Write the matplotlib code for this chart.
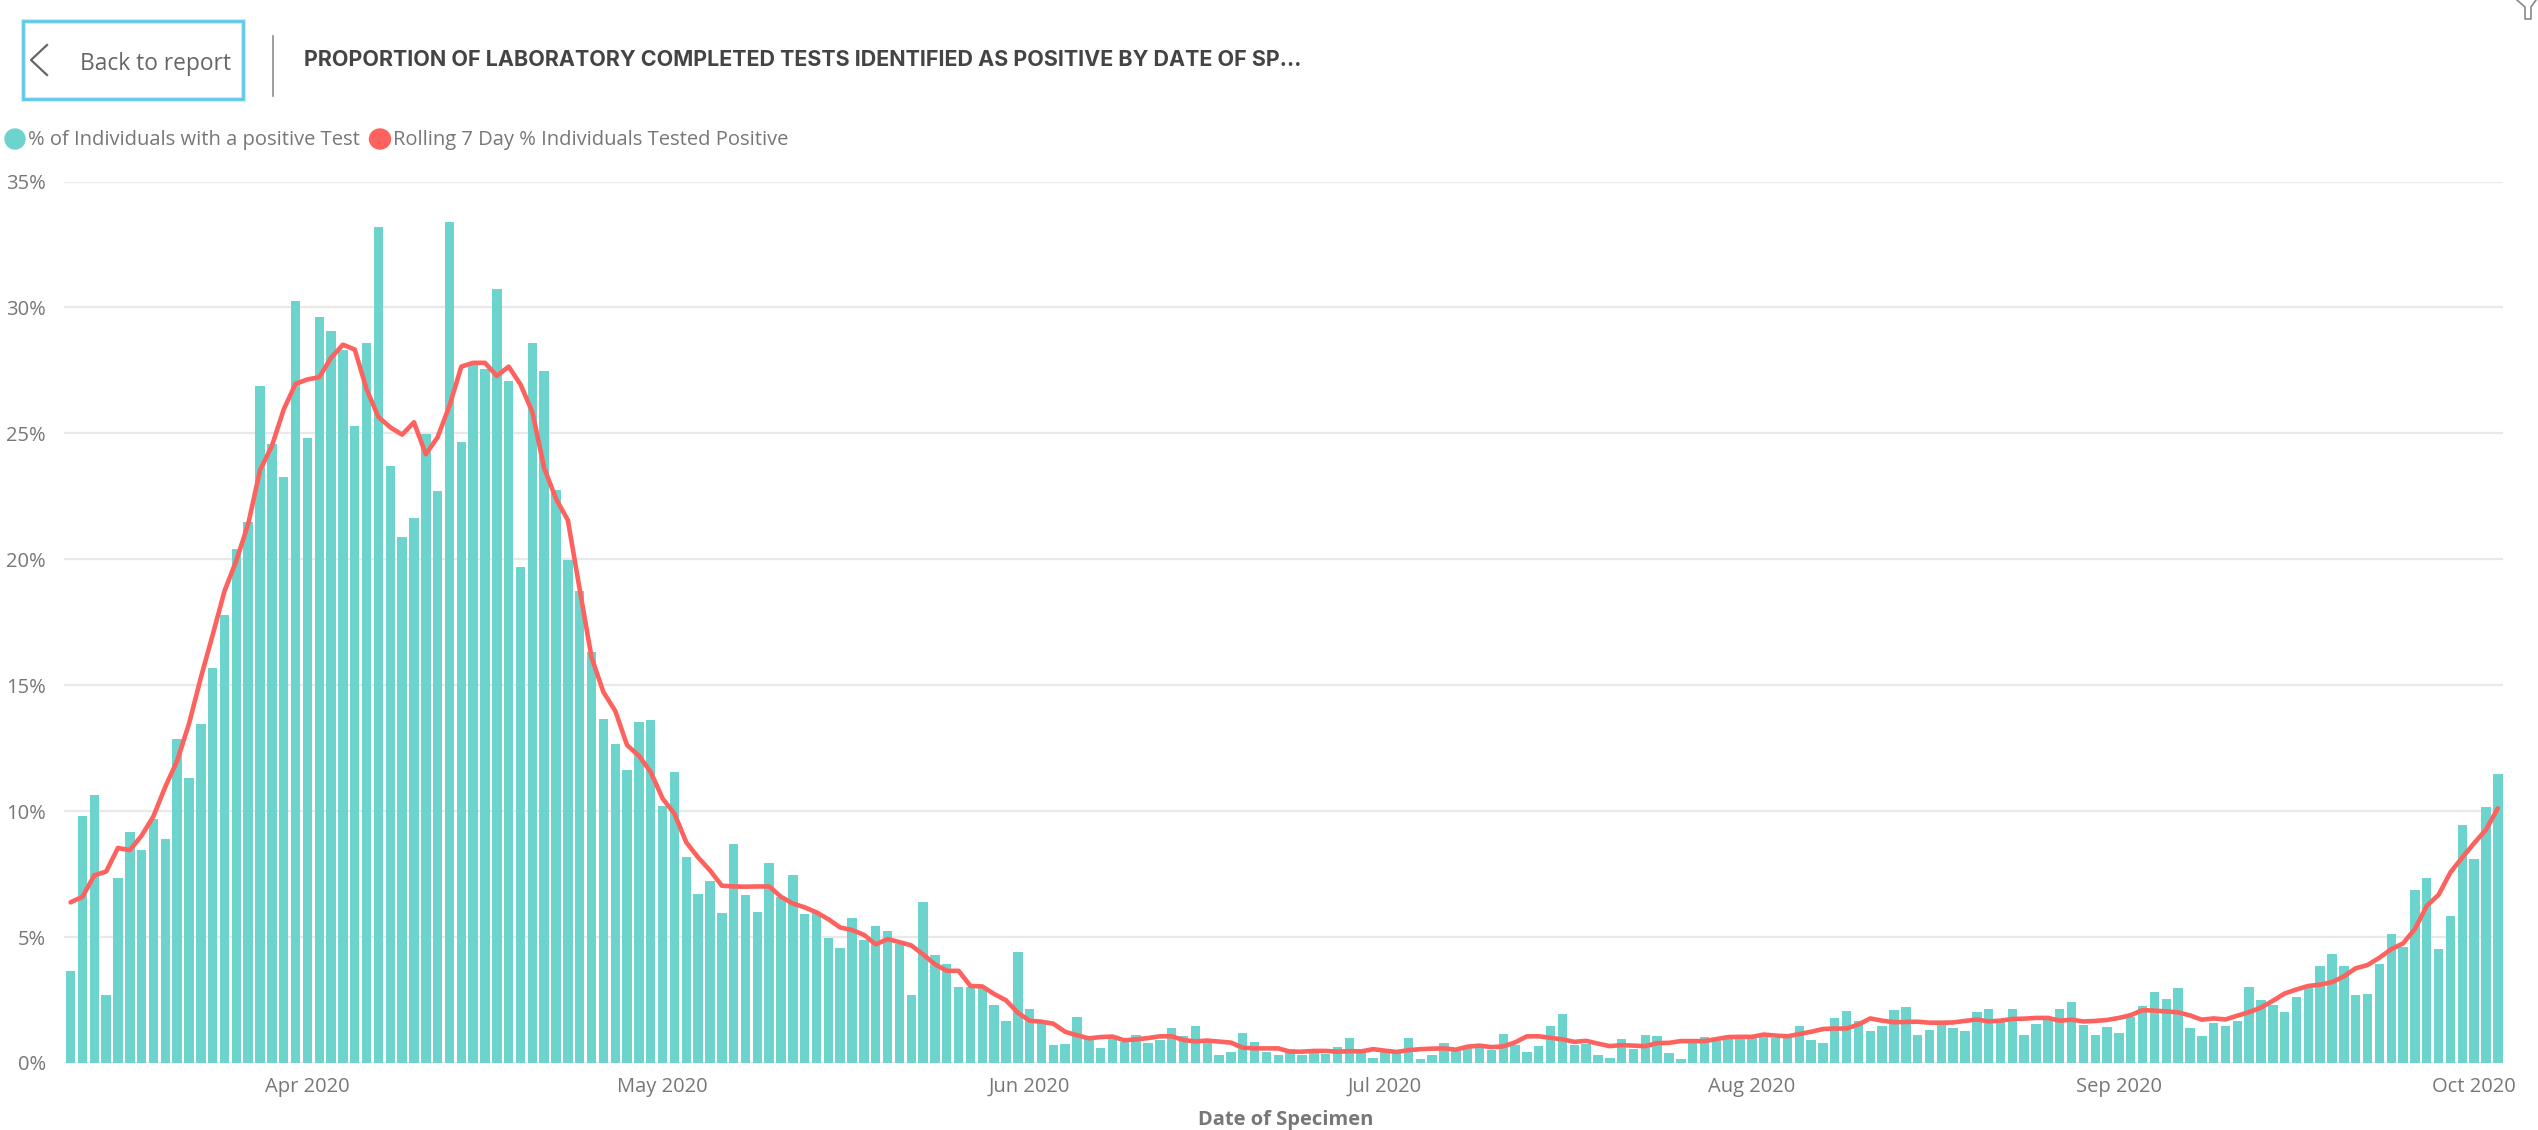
import matplotlib
matplotlib.use('Agg')
import matplotlib.pyplot as plt
import matplotlib.dates as mdates
import matplotlib.patches as mpatches
from matplotlib.lines import Line2D
import pandas as pd

W, H = 2538, 1130

# data, one value per day starting 12 Mar 2020
pct_positive = [
    3.64, 9.8, 10.63, 2.7, 7.33, 9.17, 8.47, 9.7, 8.88, 12.86,
    11.3, 13.47, 15.7, 17.8, 20.4, 21.5, 26.9, 24.56, 23.25, 30.24,
    24.8, 29.63, 29.08, 28.3, 25.3, 28.6, 33.2, 23.7, 20.9, 21.65,
    24.98, 22.7, 33.4, 24.66, 27.77, 27.57, 30.73, 27.09, 19.68, 28.6,
    27.48, 22.74, 19.98, 18.74, 16.33, 13.64, 12.67, 11.65, 13.52, 13.62,
    10.19, 11.55, 8.16, 6.7, 7.23, 5.97, 8.69, 6.67, 6.0, 7.94,
    6.6, 7.45, 5.9, 5.95, 4.95, 4.56, 5.74, 4.89, 5.42, 5.26,
    4.72, 2.69, 6.38, 4.29, 3.93, 3.02, 3.02, 2.96, 2.3, 1.67,
    4.42, 2.16, 1.64, 0.73, 0.75, 1.83, 0.95, 0.6, 1.02, 0.82,
    1.12, 0.79, 0.9, 1.39, 1.08, 1.47, 0.89, 0.33, 0.45, 1.2,
    0.83, 0.44, 0.33, 0.56, 0.33, 0.42, 0.36, 0.62, 0.99, 0.4,
    0.2, 0.49, 0.45, 0.99, 0.15, 0.33, 0.8, 0.49, 0.58, 0.66,
    0.5, 1.15, 0.71, 0.42, 0.69, 1.46, 1.93, 0.73, 0.75, 0.32,
    0.21, 0.94, 0.57, 1.11, 1.07, 0.41, 0.15, 0.82, 1.03, 0.88,
    1.06, 1.11, 1.06, 1.11, 1.0, 1.03, 1.46, 0.9, 0.78, 1.78,
    2.07, 1.65, 1.28, 1.46, 2.12, 2.24, 1.1, 1.3, 1.55, 1.38,
    1.27, 2.01, 2.13, 1.61, 2.14, 1.12, 1.56, 1.77, 2.14, 2.43,
    1.51, 1.12, 1.43, 1.19, 1.84, 2.26, 2.8, 2.54, 2.96, 1.38,
    1.07, 1.59, 1.47, 1.68, 3.0, 2.5, 2.3, 2.01, 2.63, 3.0,
    3.85, 4.33, 3.85, 2.7, 2.74, 3.93, 5.13, 4.6, 6.87, 7.34,
    4.54, 5.82, 9.43, 8.1, 10.16, 11.46,
]
rolling_7day = [
    6.38, 6.6, 7.45, 7.6, 8.54, 8.45, 9.03, 9.8, 10.97, 12.0,
    13.47, 15.3, 17.0, 18.74, 19.95, 21.4, 23.54, 24.5, 25.95, 26.97,
    27.14, 27.23, 28.0, 28.52, 28.33, 26.75, 25.65, 25.24, 24.95, 25.44,
    24.17, 24.85, 26.1, 27.65, 27.8, 27.8, 27.28, 27.65, 26.94, 25.85,
    23.62, 22.4, 21.55, 18.8, 16.1, 14.73, 13.98, 12.62, 12.2, 11.55,
    10.5, 9.9, 8.76, 8.16, 7.65, 7.04, 7.01, 7.0, 7.01, 7.01,
    6.6, 6.33, 6.18, 5.98, 5.71, 5.38, 5.28, 5.09, 4.71, 4.92,
    4.8, 4.67, 4.31, 3.92, 3.66, 3.66, 3.06, 3.04, 2.74, 2.49,
    2.0, 1.68, 1.64, 1.56, 1.24, 1.1, 0.98, 1.03, 1.05, 0.9,
    0.94, 0.99, 1.06, 1.06, 0.91, 0.86, 0.89, 0.85, 0.81, 0.61,
    0.58, 0.58, 0.58, 0.45, 0.45, 0.48, 0.48, 0.45, 0.47, 0.46,
    0.55, 0.49, 0.44, 0.51, 0.55, 0.57, 0.58, 0.53, 0.65, 0.69,
    0.63, 0.66, 0.82, 1.06, 1.06, 1.0, 0.94, 0.84, 0.88, 0.77,
    0.67, 0.71, 0.69, 0.67, 0.79, 0.8, 0.87, 0.87, 0.87, 0.95,
    1.03, 1.04, 1.04, 1.13, 1.09, 1.06, 1.15, 1.24, 1.35, 1.37,
    1.37, 1.53, 1.77, 1.68, 1.62, 1.63, 1.64, 1.6, 1.6, 1.61,
    1.67, 1.73, 1.65, 1.68, 1.75, 1.76, 1.79, 1.79, 1.68, 1.72,
    1.65, 1.67, 1.71, 1.79, 1.9, 2.1, 2.08, 2.05, 2.01, 1.89,
    1.72, 1.77, 1.73, 1.88, 2.02, 2.2, 2.47, 2.76, 2.92, 3.06,
    3.11, 3.21, 3.44, 3.76, 3.89, 4.18, 4.52, 4.75, 5.32, 6.24,
    6.68, 7.57, 8.16, 8.73, 9.26, 10.11,
]
y_ticks = [0, 5, 10, 15, 20, 25, 30, 35]
x_tick_dates = ['2020-04-01', '2020-05-01', '2020-06-01', '2020-07-01',
                '2020-08-01', '2020-09-01', '2020-10-01']
title = 'PROPORTION OF LABORATORY COMPLETED TESTS IDENTIFIED AS POSITIVE BY DATE OF SP…'

TEAL = '#6DD4CD'
RED = '#FD625E'
GREY = '#777777'
FONT = 'Open Sans'

dates = pd.date_range('2020-03-12', periods=len(pct_positive), freq='D')

fig = plt.figure(figsize=(W / 100, H / 100), dpi=100, facecolor='white')
plt.rcParams['font.family'] = [FONT, 'DejaVu Sans']

# plot area in pixels
left, right, top, bottom = 64, 2503, 181.5, 1063
ax = fig.add_axes([left / W, 1 - bottom / H, (right - left) / W, (bottom - top) / H])

ax.bar(dates, pct_positive, width=0.8, color=TEAL, zorder=2)
ax.plot(dates, rolling_7day, color=RED, linewidth=3.3, zorder=3,
        solid_joinstyle='round', solid_capstyle='round')

px_per_day = 11.84
x0 = mdates.date2num(dates[0])
ax.set_xlim(x0 - (70.6 - left) / px_per_day, x0 + (right - 70.6) / px_per_day)
ax.set_ylim(0, 35)

ax.set_yticks(y_ticks)
ax.set_yticklabels([f'{v}%' for v in y_ticks])
ax.set_xticks(pd.to_datetime(x_tick_dates))
ax.xaxis.set_major_formatter(mdates.DateFormatter('%b %Y'))
ax.tick_params(axis='both', length=0, labelsize=14.5, labelcolor=GREY)
ax.tick_params(axis='x', pad=10)
ax.tick_params(axis='y', pad=13)
ax.grid(axis='y', color='#E9E9E9', linewidth=1.6, zorder=0)
ax.grid(axis='x', visible=False)
ax.set_axisbelow(True)
for s in ax.spines.values():
    s.set_visible(False)

# x axis title
fig.text(1286 / W, 1 - 1120 / H, 'Date of Specimen', ha='center', va='center',
         fontsize=14.5, fontweight='bold', color=GREY)

# overlay axes in pixel coordinates for header and legend
over = fig.add_axes([0, 0, 1, 1], facecolor='none')
over.set_xlim(0, W)
over.set_ylim(H, 0)
over.axis('off')

# back button
over.add_patch(mpatches.Rectangle((23, 21), 220, 78, fill=False, edgecolor='#BFE9F7', linewidth=3.4))
over.add_patch(mpatches.Rectangle((23, 21), 220, 78, fill=False, edgecolor='#5AC8EC', linewidth=1.9))
over.add_line(Line2D([47, 31, 47], [45, 60, 75], color='#666666', linewidth=1.6))
over.text(80, 64, 'Back to report', fontsize=16.4, color='#666666', va='center', ha='left')
over.add_line(Line2D([273, 273], [36, 96], color='#8C8C8C', linewidth=1.2))

# title
over.text(304, 60, title, fontsize=15.5, fontweight='bold', color='#444444', va='center', ha='left',
          family=['Inter', 'DejaVu Sans'])

# legend
over.add_patch(mpatches.Ellipse((15, 139), 20, 20, color=TEAL))
over.text(28, 140, '% of Individuals with a positive Test', fontsize=14.5, color=GREY, va='center', ha='left')
over.add_patch(mpatches.Ellipse((380, 139), 21, 20, color=RED))
over.text(393, 140, 'Rolling 7 Day % Individuals Tested Positive', fontsize=14.5, color=GREY, va='center', ha='left')

# bit of cursor icon in the top right corner
over.add_line(Line2D([2517, 2525, 2525, 2531, 2531, 2536], [0, 7, 19, 19, 7, 0], color='#888888', linewidth=1.2))

fig.savefig('out.png', dpi=100)
